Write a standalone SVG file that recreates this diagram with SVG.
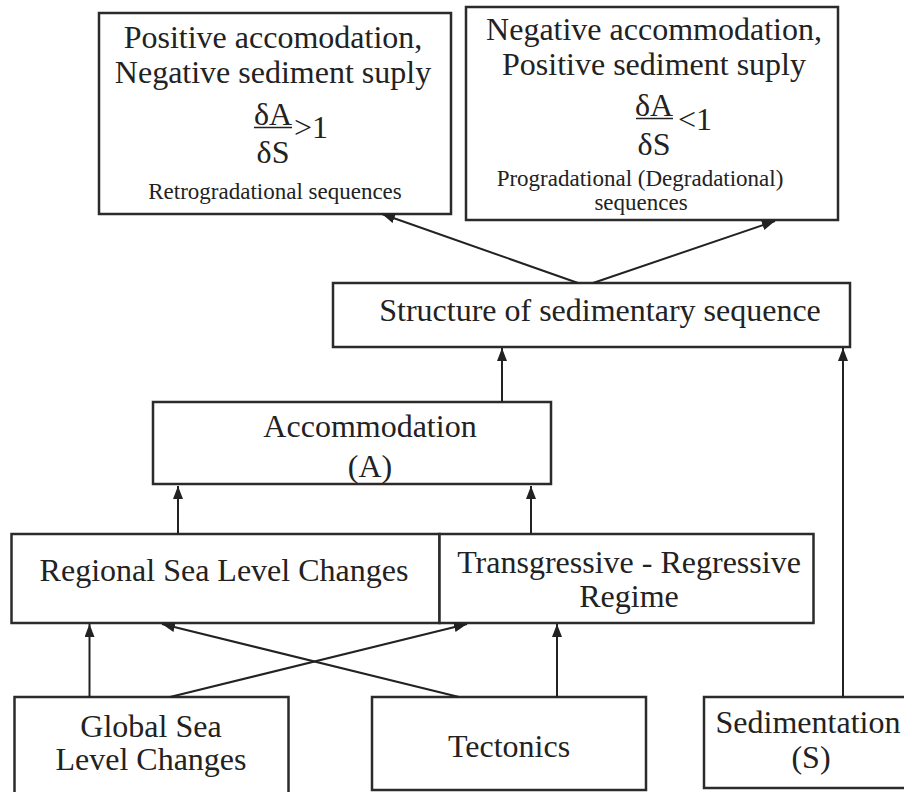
<svg xmlns="http://www.w3.org/2000/svg" width="904" height="792" viewBox="0 0 904 792">
<style>
.box{fill:#fff;stroke:#2b2b2b;stroke-width:2.5}
.t{font-family:"Liberation Serif","Times New Roman",serif;font-size:32px;fill:#222;text-anchor:middle}
.s{font-family:"Liberation Serif","Times New Roman",serif;font-size:23px;fill:#222;text-anchor:middle}
.c{stroke:#222;stroke-width:2;fill:none;marker-end:url(#ah)}
</style>
<defs>
<marker id="ah" markerUnits="userSpaceOnUse" markerWidth="14" markerHeight="10" refX="13" refY="5" orient="auto">
<path d="M0,0 L13,5 L0,10 z" fill="#222"/>
</marker>
</defs>
<rect width="904" height="792" fill="#fff"/>
<g id="n-retro">
<rect class="box" x="99" y="13" width="352" height="201"/>
<text class="t" x="273" y="48">Positive accomodation,</text>
<text class="t" x="273" y="83">Negative sediment suply</text>
<text class="t" x="273" y="125">δA</text>
<line x1="254" y1="127.5" x2="292" y2="127.5" stroke="#222" stroke-width="1.5"/>
<text class="t" x="273" y="163">δS</text>
<text class="t" x="311" y="138">&gt;1</text>
<text class="s" x="275" y="199">Retrogradational sequences</text>
</g>
<g id="n-prog">
<rect class="box" x="466" y="7" width="372" height="213"/>
<text class="t" x="654" y="40">Negative accommodation,</text>
<text class="t" x="654" y="75">Positive sediment suply</text>
<text class="t" x="654" y="116">δA</text>
<line x1="636" y1="118.5" x2="673" y2="118.5" stroke="#222" stroke-width="1.5"/>
<text class="t" x="654" y="155">δS</text>
<text class="t" x="695" y="130">&lt;1</text>
<text class="s" x="640" y="186">Progradational (Degradational)</text>
<text class="s" x="641" y="210">sequences</text>
</g>
<g id="n-structure">
<rect class="box" x="333" y="283" width="517" height="64"/>
<text class="t" x="600" y="321">Structure of sedimentary sequence</text>
</g>
<g id="n-accommodation">
<rect class="box" x="153" y="402" width="398" height="82"/>
<text class="t" x="370" y="437">Accommodation</text>
<text class="t" x="370" y="477">(A)</text>
</g>
<g id="n-regional">
<rect class="box" x="11.5" y="534" width="428" height="89"/>
<text class="t" x="224" y="581">Regional Sea Level Changes</text>
</g>
<g id="n-transgressive">
<rect class="box" x="439.5" y="534" width="374" height="89"/>
<text class="t" x="629" y="573">Transgressive - Regressive</text>
<text class="t" x="629" y="607">Regime</text>
</g>
<g id="n-global">
<rect class="box" x="14.5" y="697" width="274" height="110"/>
<text class="t" x="151" y="737">Global Sea</text>
<text class="t" x="151" y="770">Level Changes</text>
</g>
<g id="n-tectonics">
<rect class="box" x="372" y="697" width="274" height="93"/>
<text class="t" x="509" y="757">Tectonics</text>
</g>
<g id="n-sedimentation">
<rect class="box" x="704" y="697" width="220" height="91"/>
<text class="t" x="808" y="733">Sedimentation</text>
<text class="t" x="811" y="768">(S)</text>
</g>
<g id="connectors">
<line class="c" x1="578" y1="283" x2="382" y2="214"/>
<line class="c" x1="593" y1="283" x2="775" y2="221"/>
<line class="c" x1="502" y1="402" x2="502" y2="348"/>
<line class="c" x1="178" y1="534" x2="178" y2="486"/>
<line class="c" x1="531" y1="534" x2="531" y2="486"/>
<line class="c" x1="89.5" y1="697" x2="89.5" y2="624"/>
<line class="c" x1="170" y1="697" x2="467" y2="624"/>
<line class="c" x1="459" y1="697" x2="162" y2="624"/>
<line class="c" x1="557" y1="697" x2="557" y2="624"/>
<line class="c" x1="843" y1="697" x2="843" y2="348"/>
</g>
</svg>
